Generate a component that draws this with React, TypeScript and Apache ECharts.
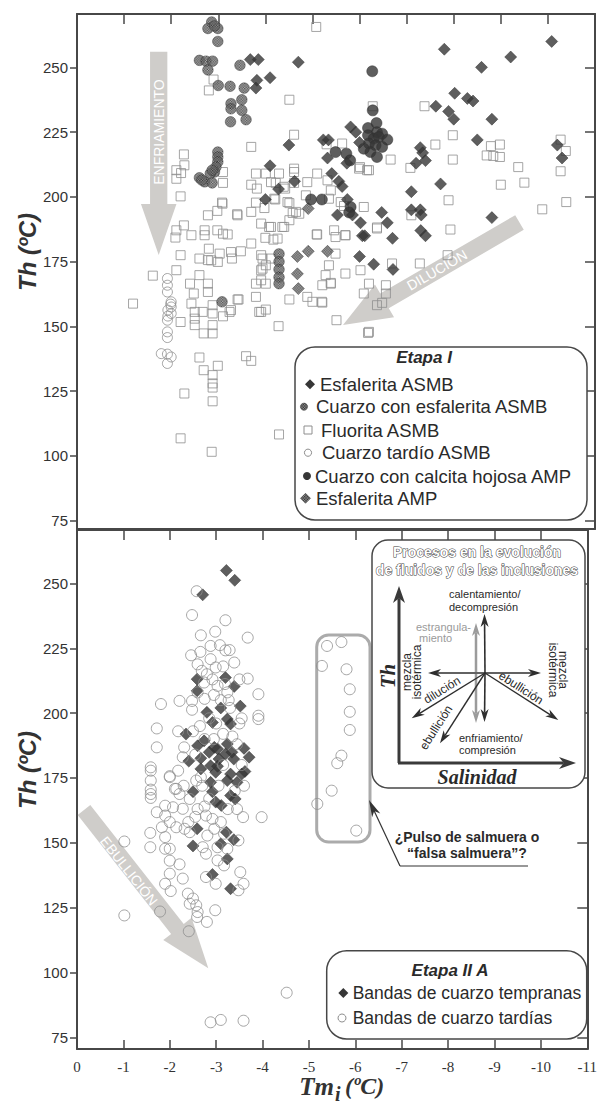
import React, { useEffect, useRef } from 'react';
import * as echarts from 'echarts';

// ---------- Etapa I : [Tm_i (ºC), Th (ºC)] ----------
const esfaleritaASMB: number[][] = [
  [-3.68, 253], [-3.85, 253], [-3.82, 245], [-3.8, 242], [-4.1, 246], [-4.7, 252],
  [-4.5, 220], [-4.1, 212], [-4.0, 199], [-4.28, 203], [-4.62, 206],
  [-5.81, 227], [-5.92, 225], [-6.0, 221], [-5.23, 222], [-5.34, 222], [-5.32, 215], [-5.73, 213],
  [-5.41, 209], [-5.56, 206], [-5.63, 204], [-5.74, 199], [-5.53, 193], [-5.85, 193], [-6.02, 190],
  [-6.06, 185], [-6.0, 177], [-6.3, 174], [-6.71, 172], [-6.47, 194], [-6.59, 190],
  [-7.1, 202], [-7.29, 219], [-7.34, 217], [-7.4, 214], [-7.2, 213], [-7.1, 195], [-7.29, 195],
  [-7.31, 193], [-7.3, 187], [-7.4, 185], [-6.7, 184], [-6.11, 185], [-7.72, 205], [-8.81, 192],
  [-7.8, 257], [-10.08, 260], [-9.21, 254], [-8.59, 250], [-8.02, 240], [-8.29, 238], [-8.41, 237],
  [-7.62, 235], [-7.89, 233], [-8.0, 230], [-8.81, 230], [-8.5, 222], [-10.2, 220], [-10.3, 215],
];

const cuarzoEsfaleritaASMB: number[][] = [
  [-2.86, 267.5], [-2.78, 265], [-2.99, 265], [-2.92, 266], [-2.99, 260], [-2.6, 252.7], [-2.74, 252.4],
  [-2.88, 252.4], [-2.78, 249], [-3.0, 243], [-3.25, 242.7], [-3.46, 250.8], [-3.55, 242], [-3.5, 237.5],
  [-3.27, 236], [-3.27, 234], [-3.5, 233.4], [-3.59, 229.8], [-3.26, 229], [-2.99, 217.3], [-2.99, 215.4],
  [-2.99, 213.5], [-2.95, 211.5], [-2.92, 209.6], [-2.83, 209], [-2.6, 207.4], [-2.71, 205.8],
  [-2.87, 205.4], [-2.87, 210.3], [-2.65, 206.5], [-3.08, 159.5],
  [-4.29, 178], [-4.29, 175], [-4.29, 172], [-4.29, 169], [-4.29, 166.5],
];

const fluoritaASMB: number[][] = [
  [-2.9, 245.3], [-2.8, 241.1], [-4.51, 237.5], [-4.61, 224], [-3.7, 219.3], [-2.27, 216.4], [-2.28, 212.2],
  [-2.11, 210.3], [-2.21, 209.2], [-2.11, 207], [-3.1, 209.6], [-3.1, 205.4], [-2.2, 200.2], [-3.08, 197.8],
  [-2.98, 194.6], [-3.4, 193.3], [-3.8, 209], [-4.01, 209], [-4.29, 209], [-4.61, 209.6], [-4.61, 205.4],
  [-3.7, 204.7], [-3.82, 203.2], [-4.22, 205.4], [-4.42, 203.2], [-3.8, 197.8], [-4.21, 199], [-4.47, 198],
  [-3.7, 194.2], [-3.98, 195.7], [-4.58, 193.8], [-3.91, 189.7], [-4.08, 188.4], [-4.36, 188.4],
  [-2.11, 187.1], [-2.27, 189], [-2.09, 184.3], [-2.43, 185.2], [-2.71, 187.1], [-2.71, 185.2],
  [-2.98, 187.1], [-3.1, 185.8], [-3.2, 185.5], [-2.8, 180], [-3.03, 178.1], [-2.2, 177.5], [-2.6, 176.2],
  [-2.78, 175.6], [-3.27, 178.7], [-3.48, 179], [-3.29, 176.2], [-3.7, 182], [-4.0, 184.2], [-4.17, 183.5],
  [-3.94, 176.2], [-4.01, 173.6], [-2.11, 171.7], [-1.61, 169.6], [-2.6, 169.8],
  [-1.19, 158.8], [-2.2, 151.7], [-2.4, 166.5], [-2.48, 162.7], [-2.43, 158.8], [-2.5, 155.6], [-2.5, 153],
  [-2.5, 150.5], [-2.67, 155.6], [-2.69, 147.3], [-2.78, 166.5], [-2.78, 163.3], [-2.88, 158.2],
  [-2.88, 155], [-2.88, 150.5], [-2.88, 147.3], [-2.99, 174.9], [-2.85, 175.5], [-3.1, 153.9],
  [-3.24, 155.6], [-3.41, 160.4], [-3.8, 161.4], [-3.87, 155.6], [-4.01, 156.5], [-3.8, 166.5],
  [-4.01, 166.5], [-3.91, 171.7], [-4.51, 160.4], [-4.28, 150.1], [-2.6, 138], [-2.69, 133.1],
  [-2.99, 134.8], [-2.88, 131.2], [-2.88, 128], [-2.88, 126.4], [-2.88, 121.1], [-2.28, 124.1],
  [-3.59, 138.5], [-3.7, 136.7], [-2.2, 106.8], [-2.86, 101.6], [-4.29, 108.3],
  [-4.61, 210.9], [-4.12, 205.7], [-4.89, 205.7], [-5.1, 209], [-5.32, 206.4], [-5.39, 202.5],
  [-5.99, 210.9], [-6.16, 210.3], [-4.39, 203.9], [-4.19, 199.3], [-4.51, 197.6], [-4.65, 194.2],
  [-4.86, 200.6], [-5.35, 199.3], [-5.6, 198], [-6.09, 196.1], [-3.41, 192.9], [-3.09, 197.4],
  [-2.78, 192.9], [-4.12, 188.4], [-4.4, 188.4], [-4.51, 191], [-4.72, 193.5], [-5.09, 185.5],
  [-5.49, 184.5], [-5.7, 185.2], [-6.37, 188.2], [-4.26, 183.9], [-3.91, 177.5], [-4.12, 176.2],
  [-3.94, 172.3], [-3.91, 167.8], [-3.43, 160.4], [-3.27, 156.3], [-3.91, 155.6], [-4.89, 161.4],
  [-5.0, 159.5], [-5.21, 159.2], [-5.21, 165.9], [-5.39, 166.5], [-5.28, 169.8], [-5.35, 173.6],
  [-5.49, 178.1], [-5.7, 170.4], [-6.02, 171.7], [-6.09, 162.7], [-6.2, 166.5], [-6.37, 158.2],
  [-5.51, 152.4], [-6.2, 147.9],
  [-5.08, 265.6], [-6.28, 235], [-7.38, 235], [-7.98, 223.8], [-7.61, 220.2], [-5.63, 220.6],
  [-5.3, 220.3], [-6.66, 214.4], [-6.01, 211.5], [-6.2, 210.3], [-7.08, 211.2], [-7.98, 214.4],
  [-8.79, 219.6], [-8.98, 220.2], [-8.7, 216], [-8.84, 215.8], [-8.98, 215.4], [-9.37, 211.5],
  [-10.27, 222.1], [-10.38, 217.7], [-10.27, 209.9], [-9.5, 205.5], [-9.0, 204.7], [-9.88, 195.2],
  [-10.39, 198], [-7.89, 198.7], [-7.1, 192.9], [-7.93, 187.4], [-7.28, 174.3], [-7.87, 177.5],
  [-6.37, 187.8], [-5.7, 185.2], [-5.46, 187.1], [-5.1, 185.5], [-5.67, 196.5], [-6.69, 174.3],
  [-6.18, 147.5], [-6.48, 159.1], [-6.56, 162.7], [-6.56, 165.9], [-5.2, 159.5], [-5.39, 166.8],
];

const cuarzoTardioASMB: number[][] = [
  [-1.92, 168.5], [-1.92, 165.9], [-1.92, 163.3], [-2.0, 159.5], [-2.0, 157.5], [-2.0, 155],
  [-1.93, 154], [-1.92, 152.4], [-1.92, 147.9], [-1.92, 145.7], [-1.79, 139.5], [-1.92, 139.3],
  [-2.0, 138.2], [-1.92, 135.7], [-1.99, 158.6], [-1.93, 156.3],
];

const cuarzoCalcitaAMP: number[][] = [
  [-6.27, 248.5], [-6.28, 233.4], [-6.36, 228.5], [-5.49, 217.3], [-5.72, 216.7], [-5.8, 214.1],
  [-4.97, 199], [-5.2, 199], [-5.81, 196.1], [-5.78, 194],
  [-6.18, 226.6], [-6.37, 225], [-6.48, 224.4], [-6.18, 223.8], [-6.3, 222.5], [-6.41, 223.1],
  [-6.59, 222.1], [-6.2, 220.6], [-6.34, 219.9], [-6.48, 219.3], [-6.23, 217.3], [-6.37, 215.4],
  [-6.09, 218.6],
];

const esfaleritaAMP: number[][] = [
  [-4.91, 195.5], [-4.68, 177], [-4.91, 179], [-5.32, 179], [-4.68, 170.3], [-4.7, 164.6],
];

// ---------- Etapa IIA ----------
const bandasTempranas: number[][] = [
  [-3.22, 255], [-3.4, 251.2], [-2.71, 245.6], [-2.59, 213.1], [-2.59, 208.6], [-3.2, 213.7],
  [-3.39, 210.3], [-3.52, 202.7], [-2.8, 200.3], [-3.1, 202], [-2.35, 191.9], [-3.24, 197.7],
  [-3.31, 195.8], [-2.6, 187.4], [-2.74, 189.3], [-2.85, 184.9], [-2.67, 182.6], [-2.41, 181.5],
  [-2.96, 186.8], [-3.06, 182.3], [-3.2, 184.2], [-3.34, 184.9], [-3.38, 182.3], [-3.6, 186.4],
  [-3.71, 183], [-3.62, 177.5], [-3.55, 176.5], [-3.31, 176.5], [-2.67, 178.5], [-2.88, 179.7],
  [-2.99, 177.2], [-2.88, 173.3], [-3.24, 174], [-3.45, 173.3], [-3.31, 168.2], [-3.41, 166.9],
  [-2.92, 169.7], [-2.99, 165.7], [-3.11, 164.4], [-2.5, 169.7], [-2.59, 155.4], [-2.5, 148.8],
  [-3.22, 154.1], [-3.1, 149.6], [-3.38, 151.2], [-3.24, 143.8], [-2.92, 137.8], [-3.31, 132.3],
  [-3.03, 179.5], [-2.92, 196.4], [-3.24, 188.1], [-3.03, 186.2],
];

const bandasTardias: number[][] = [
  [-2.58, 247], [-2.48, 237.8], [-3.2, 235.8], [-2.67, 230], [-2.98, 231.4], [-3.68, 229.1],
  [-2.46, 222.3], [-2.66, 223.6], [-2.88, 225.9], [-3.08, 226.2], [-3.2, 224.2], [-3.29, 224.3],
  [-3.39, 219.5], [-2.6, 218.8], [-2.69, 216.3], [-2.88, 220.8], [-2.99, 217.6], [-2.74, 211.8],
  [-2.92, 213], [-3.03, 210.5], [-3.19, 211.2], [-3.24, 208], [-3.27, 205], [-3.68, 213.3],
  [-3.91, 207.3], [-3.91, 199], [-3.91, 197.7], [-1.81, 203.5], [-2.21, 204.7], [-2.48, 201.3],
  [-2.48, 204.7], [-1.72, 194.1], [-2.18, 193], [-1.72, 186.8], [-2.31, 186.8], [-2.28, 183],
  [-2.18, 177.8], [-2.0, 175.3], [-1.59, 179.1], [-1.59, 177.8], [-1.59, 174], [-1.59, 170.5],
  [-1.59, 168.8], [-1.59, 167.3], [-2.11, 170.8], [-2.21, 168.8], [-2.3, 172],
  [-2.6, 208], [-2.75, 205.5], [-2.95, 207], [-3.1, 205], [-2.85, 198], [-3.0, 196], [-3.15, 192],
  [-2.65, 195], [-2.5, 193], [-2.75, 190], [-2.95, 190], [-3.35, 191], [-3.45, 188], [-3.5, 196],
  [-3.55, 180], [-3.15, 180], [-2.55, 184], [-3.05, 172], [-2.7, 172], [-3.4, 170], [-3.6, 172],
  [-2.85, 167], [-3.25, 163], [-3.45, 163], [-3.55, 198], [-3.3, 202], [-2.8, 215], [-3.15, 218],
  [-3.5, 213],
  [-1.58, 153.8], [-1.58, 148.3], [-2.0, 175.7], [-2.14, 170.8], [-2.57, 174], [-2.67, 175.3],
  [-2.43, 166.9], [-1.72, 161.8], [-1.9, 164.3], [-2.07, 163.7], [-2.28, 163.1], [-1.9, 160.5],
  [-2.0, 158], [-2.14, 156], [-1.83, 156], [-2.32, 155.4], [-2.43, 154.1], [-1.9, 152.2],
  [-1.9, 147.7], [-2.0, 147.7], [-2.0, 143.1], [-2.21, 141.7], [-2.0, 138.1], [-1.9, 134.2],
  [-2.02, 131.4], [-2.28, 136.2], [-1.79, 123.5], [-2.39, 130.4], [-2.5, 128.5], [-2.57, 125.9],
  [-2.43, 126.5], [-2.6, 123.3], [-2.59, 121.4], [-2.8, 119.5], [-2.98, 124], [-2.41, 115.9],
  [-1.02, 122], [-1.02, 150.5], [-3.58, 159.9], [-3.98, 159.9], [-3.48, 150.9], [-3.52, 138.7],
  [-3.59, 134.2], [-3.48, 131.7], [-3.17, 141.3], [-2.99, 134.2], [-2.78, 136.8], [-2.71, 148.3],
  [-2.81, 152.8], [-2.96, 155.4], [-3.03, 148.3], [-2.78, 145.8], [-3.03, 143.2], [-3.24, 147.7],
  [-3.17, 153.5], [-3.1, 158], [-2.92, 159.2], [-2.78, 160.5], [-2.55, 160], [-2.4, 158],
  [-2.6, 163], [-2.75, 164],
  [-4.52, 92.2], [-2.88, 80.8], [-3.1, 81.7], [-3.59, 81.4],
];

// inclusions grouped as a possible brine pulse
const pulsoSalmuera: number[][] = [
  [-5.39, 225.9], [-5.7, 227.4], [-5.28, 218.2], [-5.81, 216.9], [-5.88, 209.2], [-5.88, 200.5],
  [-5.88, 193.5], [-5.7, 183.6], [-5.61, 180.7], [-5.49, 170.1], [-5.18, 165], [-6.02, 154.7],
];

const thTicks = [75, 100, 125, 150, 175, 200, 225, 250];

const etapaILegend = [
  'Esfalerita ASMB',
  'Cuarzo con esfalerita ASMB',
  'Fluorita ASMB',
  'Cuarzo tardío ASMB',
  'Cuarzo con calcita hojosa AMP',
  'Esfalerita AMP',
];
const etapaIILegend = ['Bandas de cuarzo tempranas', 'Bandas de cuarzo tardías'];

// ---------- styling ----------
const AXIS = '#474747';
const DARK = '#363636';
const OPEN = '#8e8e8e';
const ARROW_GREY = '#cfcdca';
const SANS = '"Liberation Sans", Arial, sans-serif';
const SERIF = '"Liberation Serif", "Times New Roman", serif';

type Pt = [number, number];

// fine checkered texture; `scale` compensates for the symbol's own scaling
function makeHatch(scale: number): any {
  const c = document.createElement('canvas');
  c.width = 4;
  c.height = 4;
  const g = c.getContext('2d')!;
  g.fillStyle = '#a4a4a4';
  g.fillRect(0, 0, 4, 4);
  g.fillStyle = '#1e1e1e';
  for (let y = 0; y < 4; y++) {
    for (let x = 0; x < 4; x++) {
      if ((x + y) % 2 === 0) g.fillRect(x, y, 1, 1);
    }
  }
  return {
    image: c.toDataURL(), repeat: 'repeat', imageWidth: 4, imageHeight: 4,
    scaleX: scale, scaleY: scale,
  };
}

function blockArrow(tail: Pt, tip: Pt, sw: number, hw: number, hl: number): Pt[] {
  const dx = tip[0] - tail[0];
  const dy = tip[1] - tail[1];
  const len = Math.hypot(dx, dy);
  const ux = dx / len, uy = dy / len;
  const nx = -uy, ny = ux;
  const bx = tip[0] - ux * hl, by = tip[1] - uy * hl;
  return [
    [tail[0] + nx * sw / 2, tail[1] + ny * sw / 2],
    [bx + nx * sw / 2, by + ny * sw / 2],
    [bx + nx * hw / 2, by + ny * hw / 2],
    tip,
    [bx - nx * hw / 2, by - ny * hw / 2],
    [bx - nx * sw / 2, by - ny * sw / 2],
    [tail[0] - nx * sw / 2, tail[1] - ny * sw / 2],
  ];
}

function headPts(tip: Pt, from: Pt, hl: number, hw: number): { pts: Pt[]; notch: Pt } {
  const dx = tip[0] - from[0];
  const dy = tip[1] - from[1];
  const len = Math.hypot(dx, dy);
  const ux = dx / len, uy = dy / len;
  const nx = -uy, ny = ux;
  const bx = tip[0] - ux * hl, by = tip[1] - uy * hl;
  const notch: Pt = [tip[0] - ux * hl * 0.72, tip[1] - uy * hl * 0.72];
  return {
    pts: [tip, [bx + nx * hw / 2, by + ny * hw / 2], notch, [bx - nx * hw / 2, by - ny * hw / 2]],
    notch,
  };
}

function lineArrow(from: Pt, to: Pt, color: string, lw: number, hl: number, hw: number, z: number): any[] {
  const h1 = headPts(to, from, hl, hw);
  return [
    {
      type: 'line', z,
      shape: { x1: from[0], y1: from[1], x2: h1.notch[0], y2: h1.notch[1] },
      style: { stroke: color, lineWidth: lw },
    },
    { type: 'polygon', z, shape: { points: h1.pts }, style: { fill: color } },
  ];
}

function txt(x: number, y: number, text: string, font: string, fill: string, z: number, opts: any = {}): any {
  const align = opts.align || 'center';
  return {
    type: 'text', x, y, z, rotation: opts.rotation || 0,
    style: {
      text, font, fill,
      align, textAlign: align,
      verticalAlign: 'middle', textVerticalAlign: 'middle',
      lineHeight: opts.lineHeight,
      stroke: opts.stroke, lineWidth: opts.lineWidth,
    },
  };
}

function diamondPts(cx: number, cy: number, s: number): Pt[] {
  return [[cx, cy - s / 2], [cx + s / 2, cy], [cx, cy + s / 2], [cx - s / 2, cy]];
}

export default function App() {
  const ref = useRef<HTMLDivElement>(null);

  useEffect(() => {
    if (!ref.current) return;
    const chart = echarts.init(ref.current, undefined, { renderer: 'svg' });
    const hatchLegend = makeHatch(0.8);
    const hatchCircle = makeHatch(1.3 / 5.25);
    const hatchDiamond = makeHatch(1.3 / 6);

    const lineStyle = { color: AXIS, width: 2 };
    const tickStyle = { color: AXIS, width: 1.5 };

    const xBase = {
      type: 'value', min: -11, max: 0, interval: 1, inverse: true,
      axisLine: { show: true, onZero: false, lineStyle },
      splitLine: { show: false },
    };
    const yTop = { min: 71.8, max: 270.6 };
    const yBot = { min: 70.5, max: 270.6 };
    const yLeft = (range: any, grid: number) => ({
      type: 'value', gridIndex: grid, position: 'left', ...range,
      axisLine: { show: true, onZero: false, lineStyle },
      axisTick: { show: true, inside: false, length: 7, lineStyle: tickStyle, customValues: thTicks },
      axisLabel: { show: true, margin: 9, color: '#333', fontSize: 15, fontFamily: SANS, customValues: thTicks },
      splitLine: { show: false },
    });
    const yRight = (range: any, grid: number) => ({
      type: 'value', gridIndex: grid, position: 'right', ...range,
      axisLine: { show: true, onZero: false, lineStyle },
      axisTick: { show: true, inside: true, length: 10, lineStyle: tickStyle, customValues: thTicks },
      axisLabel: { show: false },
      splitLine: { show: false },
    });

    const sq = (name: string, data: number[][], x: number, y: number, z = 2) => ({
      type: 'scatter', name, data, xAxisIndex: x, yAxisIndex: y, z,
      symbol: 'rect', symbolSize: 9,
      itemStyle: { color: 'transparent', borderColor: OPEN, borderWidth: 1 },
    });
    const openCircle = (name: string, data: number[][], x: number, y: number, size: number, z = 2) => ({
      type: 'scatter', name, data, xAxisIndex: x, yAxisIndex: y, z,
      symbol: 'circle', symbolSize: size,
      itemStyle: { color: 'transparent', borderColor: OPEN, borderWidth: 1 },
    });
    const filled = (name: string, data: number[][], x: number, y: number, symbol: string, size: number, color: any, z = 3) => ({
      type: 'scatter', name, data, xAxisIndex: x, yAxisIndex: y, z,
      symbol, symbolSize: size,
      itemStyle: { color, borderColor: '#2e2e2e', borderWidth: 0.6 },
    });

    // ----- annotation graphics -----
    const g: any[] = [];

    // process arrows (grey block arrows with white captions)
    g.push({ type: 'polygon', z: 1, shape: { points: blockArrow([158.7, 51.7], [158.7, 255], 17.3, 35.5, 51) }, style: { fill: ARROW_GREY } });
    g.push(txt(158.7, 132, 'ENFRIAMIENTO', `14px ${SANS}`, '#fff', 1, { rotation: Math.PI / 2 }));
    g.push({ type: 'polygon', z: 1, shape: { points: blockArrow([519.5, 222.5], [343, 325], 17, 38, 48) }, style: { fill: ARROW_GREY } });
    g.push(txt(437, 270, 'DILUCIÓN', `14px ${SANS}`, '#fff', 1, { rotation: Math.atan2(102, 176) }));
    g.push({ type: 'polygon', z: 1, shape: { points: blockArrow([84, 810], [208.3, 968.3], 16, 36, 50) }, style: { fill: ARROW_GREY } });
    g.push(txt(129, 871, 'EBULLICIÓN', `14px ${SANS}`, '#fff', 1, { rotation: -Math.atan2(158.3, 124.3) }));

    // axis titles
    g.push(txt(27, 252, 'Th (ºC)', `italic bold 24px ${SANS}`, '#333', 5, { rotation: Math.PI / 2 }));
    g.push(txt(27, 770, 'Th (ºC)', `italic bold 24px ${SANS}`, '#333', 5, { rotation: Math.PI / 2 }));
    g.push(txt(334, 1086, 'Tm', `italic bold 25px ${SERIF}`, '#333', 5, { align: 'right' }));
    g.push(txt(335, 1094, 'i', `italic bold 20px ${SERIF}`, '#333', 5, { align: 'left' }));
    g.push(txt(345, 1086, '(ºC)', `italic bold 24px ${SERIF}`, '#333', 5, { align: 'left' }));

    // Etapa I legend
    g.push({ type: 'rect', z: 10, shape: { x: 295, y: 347, width: 292, height: 173, r: 20 }, style: { fill: '#fff', stroke: AXIS, lineWidth: 1.5 } });
    g.push(txt(424, 357, 'Etapa I', `italic bold 17px ${SANS}`, '#2a2a2a', 11));
    const rowsI = [384.3, 406.7, 430, 452.7, 476, 498.3];
    const textXI = [320, 316, 321, 322, 315, 316];
    etapaILegend.forEach((label, i) => {
      g.push(txt(textXI[i], rowsI[i], label, `18.5px ${SANS}`, '#2a2a2a', 11, { align: 'left' }));
    });
    g.push({ type: 'polygon', z: 11, shape: { points: diamondPts(310, rowsI[0], 10) }, style: { fill: DARK } });
    g.push({ type: 'circle', z: 11, shape: { cx: 304, cy: rowsI[1], r: 3.6 }, style: { fill: hatchLegend, stroke: '#2e2e2e', lineWidth: 0.5 } });
    g.push({ type: 'rect', z: 11, shape: { x: 304, y: rowsI[2] - 4, width: 8, height: 8 }, style: { fill: 'none', stroke: OPEN, lineWidth: 1 } });
    g.push({ type: 'circle', z: 11, shape: { cx: 308, cy: rowsI[3], r: 3.6 }, style: { fill: 'none', stroke: OPEN, lineWidth: 1 } });
    g.push({ type: 'circle', z: 11, shape: { cx: 307, cy: rowsI[4], r: 4 }, style: { fill: DARK } });
    g.push({ type: 'polygon', z: 11, shape: { points: diamondPts(305.5, rowsI[5], 10) }, style: { fill: hatchLegend, stroke: '#2e2e2e', lineWidth: 0.5 } });

    // Etapa IIA legend
    g.push({ type: 'rect', z: 10, shape: { x: 326.7, y: 950.7, width: 260, height: 88.3, r: 20 }, style: { fill: '#fff', stroke: AXIS, lineWidth: 1.5 } });
    g.push(txt(450, 970.5, 'Etapa II A', `italic bold 17px ${SANS}`, '#2a2a2a', 11));
    g.push(txt(352.7, 992.7, etapaIILegend[0], `17.5px ${SANS}`, '#2a2a2a', 11, { align: 'left' }));
    g.push(txt(352.7, 1018.3, etapaIILegend[1], `17.5px ${SANS}`, '#2a2a2a', 11, { align: 'left' }));
    g.push({ type: 'polygon', z: 11, shape: { points: diamondPts(343.3, 993, 10) }, style: { fill: DARK } });
    g.push({ type: 'circle', z: 11, shape: { cx: 342, cy: 1018, r: 4 }, style: { fill: 'none', stroke: OPEN, lineWidth: 1 } });

    // brine pulse box and its note
    g.push({ type: 'rect', z: 1, shape: { x: 316.7, y: 635, width: 53.3, height: 207, r: 12 }, style: { fill: 'none', stroke: '#ababab', lineWidth: 3 } });
    g.push(txt(467, 845, '¿Pulso de salmuera o\n“falsa salmuera”?', `bold 14px ${SANS}`, '#2a2a2a', 5, { lineHeight: 16.3 }));
    g.push({ type: 'line', z: 5, shape: { x1: 400, y1: 866, x2: 528, y2: 866 }, style: { stroke: '#333', lineWidth: 1.2 } });
    g.push(...lineArrow([400, 866], [369, 800], '#333', 1.2, 17, 9, 5));

    // inset: processes affecting fluids and inclusions
    g.push({ type: 'rect', z: 10, shape: { x: 372, y: 540, width: 213, height: 248, r: 16 }, style: { fill: '#fff', stroke: AXIS, lineWidth: 1.5 } });
    g.push(txt(477, 561, 'Procesos en la evolución\nde fluidos y de las inclusiones', `bold 14px ${SANS}`, '#fff', 12, { stroke: '#3a3a3a', lineWidth: 1, lineHeight: 18.5 }));
    g.push(...lineArrow([399, 763], [399, 586], '#3a3a3a', 3, 17, 12, 11));
    g.push(...lineArrow([398, 763], [576, 763], '#3a3a3a', 3, 17, 12, 11));
    g.push(txt(388, 676, 'Th', `italic bold 21px ${SERIF}`, '#2a2a2a', 12, { rotation: Math.PI / 2 }));
    g.push(txt(477, 777, 'Salinidad', `italic bold 20px ${SERIF}`, '#2a2a2a', 12));

    const C: Pt = [485, 673];
    g.push(...lineArrow([476, 672], [476, 623], '#9b9b9b', 2.5, 13, 8, 11));
    g.push(...lineArrow([476, 674], [476, 723], '#9b9b9b', 2.5, 13, 8, 11));
    g.push(...lineArrow(C, [484.5, 614], '#2e2e2e', 1.6, 13, 8, 12));
    g.push(...lineArrow(C, [484.5, 722], '#2e2e2e', 1.6, 13, 8, 12));
    g.push(...lineArrow(C, [428, 673], '#2e2e2e', 1.4, 13, 8, 12));
    g.push(...lineArrow(C, [541, 673], '#2e2e2e', 1.4, 13, 8, 12));
    g.push(...lineArrow(C, [411.7, 718.3], '#2e2e2e', 1.4, 13, 8, 12));
    g.push(...lineArrow(C, [440, 743.3], '#2e2e2e', 1.4, 13, 8, 12));
    g.push(...lineArrow(C, [558.3, 720], '#2e2e2e', 1.4, 13, 8, 12));

    const small = `12px ${SANS}`;
    const tiny = `11px ${SANS}`;
    g.push(txt(449, 600.5, 'calentamiento/\ndecompresión', tiny, '#2a2a2a', 12, { align: 'left', lineHeight: 12.5 }));
    g.push(txt(416, 632.3, 'estrangula-\n miento', tiny, '#9a9a9a', 12, { align: 'left', lineHeight: 11.5 }));
    g.push(txt(459, 744, 'enfriamiento/\ncompresión', tiny, '#2a2a2a', 12, { align: 'left', lineHeight: 12.5 }));
    g.push(txt(412, 672, 'mezcla\nisotérmica', small, '#2a2a2a', 12, { rotation: Math.PI / 2, lineHeight: 10.6 }));
    g.push(txt(558, 670, 'mezcla\nisotérmica', small, '#2a2a2a', 12, { rotation: -Math.PI / 2, lineHeight: 10.6 }));
    g.push(txt(442, 690, 'dilución', small, '#2a2a2a', 12, { rotation: Math.atan2(45.3, 73.3) }));
    g.push(txt(436, 727.5, 'ebullición', small, '#2a2a2a', 12, { rotation: Math.atan2(70.3, 45) }));
    g.push(txt(521, 688, 'ebullición', small, '#2a2a2a', 12, { rotation: -Math.atan2(47, 73.3) }));

    chart.setOption({
      animation: false,
      grid: [
        { left: 77, top: 14, width: 518, height: 515, containLabel: false },
        { left: 77, top: 530, width: 518, height: 519, containLabel: false },
      ],
      xAxis: [
        { ...xBase, gridIndex: 0, position: 'top', axisTick: { show: true, inside: true, length: 10, lineStyle: tickStyle }, axisLabel: { show: false } },
        { ...xBase, gridIndex: 0, position: 'bottom', axisTick: { show: false }, axisLabel: { show: false } },
        { ...xBase, gridIndex: 1, position: 'top', axisTick: { show: true, inside: true, length: 10, lineStyle: tickStyle }, axisLabel: { show: false } },
        {
          ...xBase, gridIndex: 1, position: 'bottom',
          axisTick: { show: true, inside: true, length: 9, lineStyle: tickStyle },
          axisLabel: { show: true, margin: 10, color: '#333', fontSize: 15, fontFamily: SERIF },
        },
      ],
      yAxis: [yLeft(yTop, 0), yRight(yTop, 0), yLeft(yBot, 1), yRight(yBot, 1)],
      series: [
        sq('Fluorita ASMB', fluoritaASMB, 1, 0),
        openCircle('Cuarzo tardío ASMB', cuarzoTardioASMB, 1, 0, 10),
        filled('Cuarzo con esfalerita ASMB', cuarzoEsfaleritaASMB, 1, 0, 'circle', 10.5, hatchCircle),
        filled('Esfalerita AMP', esfaleritaAMP, 1, 0, 'diamond', 12, hatchDiamond),
        filled('Cuarzo con calcita hojosa AMP', cuarzoCalcitaAMP, 1, 0, 'circle', 11, DARK),
        filled('Esfalerita ASMB', esfaleritaASMB, 1, 0, 'diamond', 12, DARK, 4),
        filled('Bandas de cuarzo tempranas', bandasTempranas, 3, 2, 'diamond', 12, DARK),
        openCircle('Bandas de cuarzo tardías', bandasTardias.concat(pulsoSalmuera), 3, 2, 11, 4),
      ],
      graphic: { elements: g },
    });

    return () => chart.dispose();
  }, []);

  return (
    <div
      ref={ref}
      style={{ position: 'absolute', left: 0, top: 0, width: 600, height: 1110, background: '#fff' }}
    />
  );
}
